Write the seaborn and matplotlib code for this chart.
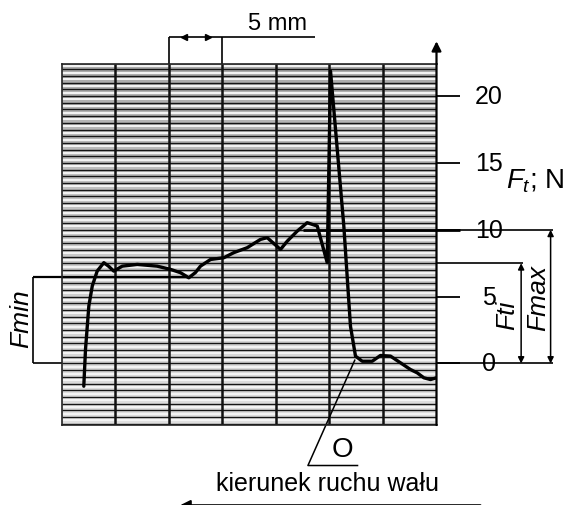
import numpy as np
import pandas as pd
import matplotlib
matplotlib.use("Agg")
import matplotlib.pyplot as plt
import seaborn as sns

# Recorded friction trace: shaft travel (mm) against tangential force F_t (N)
travel_mm = [2.08, 2.24, 2.55, 2.87, 3.33, 3.95, 4.39, 4.88, 5.67, 7.07, 8.93,
             10.17, 11.11, 11.88, 12.51, 12.97, 13.91, 15.15, 16.08, 17.33,
             18.57, 19.20, 20.44, 21.07, 22.00, 22.93, 23.87, 24.80, 25.11,
             26.35, 26.97, 27.44, 28.07, 29.00, 29.77, 30.71, 31.64, 32.57,
             33.20, 33.82, 34.44, 35.00]
force_N = [-1.70, 1.05, 4.29, 5.79, 6.91, 7.54, 7.28, 6.91, 7.28, 7.41, 7.28,
           7.04, 6.79, 6.41, 6.81, 7.28, 7.78, 7.91, 8.29, 8.66,
           9.28, 9.41, 8.53, 9.15, 9.90, 10.53, 10.28, 7.54, 21.86,
           10.28, 2.79, 0.55, 0.17, 0.17, 0.60, 0.55, 0.05, -0.45,
           -0.70, -1.07, -1.20, -1.07]

# Axis scale labels and characteristic force levels
force_ticks = [0, 5, 10, 15, 20]
tick_labels = ["0", "5", "10", "15", "20"]
F_min = 6.5
F_ti = 7.5
F_max = 10.0

df = pd.DataFrame({"travel": travel_mm, "force": force_N})

sns.set_theme(style="white")
plt.rcParams["font.family"] = ["Liberation Sans", "DejaVu Sans"]
plt.rcParams["text.color"] = "black"
plt.rcParams["mathtext.fontset"] = "custom"
plt.rcParams["mathtext.it"] = "Liberation Sans:italic"
plt.rcParams["mathtext.rm"] = "Liberation Sans"

W, H = 576, 506
fig = plt.figure(figsize=(W / 100, H / 100), dpi=100)
ax = fig.add_axes([61.5 / W, 1 - 426 / H, (436.5 - 61.5) / W, (426 - 65) / H])

XMAX, YMIN, YMAX = 35.0, -4.6, 22.4
ax.set_xlim(0, XMAX)
ax.set_ylim(YMIN, YMAX)
ax.set_facecolor("#a8a8a8")
ax.set_xticks([])
ax.set_yticks([])
for side in ["left", "bottom", "top"]:
    ax.spines[side].set_color("#222222")
    ax.spines[side].set_linewidth(1.2)
ax.spines["right"].set_visible(False)

# Recorder chart paper: darker band at the top, black rulings every 0.5 N
# and lighter rulings between them
shade = np.linspace(0.0, 1.0, 200).reshape(-1, 1)
ax.imshow(shade, extent=[0, XMAX, YMIN, YMAX], origin="upper", aspect="auto",
          cmap="Greys_r", vmin=-2.6, vmax=2.0, zorder=0)
rules = np.arange(-4.5, YMAX, 0.5)
ax.hlines(rules + 0.25, 0, XMAX, colors="#f4f4f4", lw=1.4, zorder=1)
ax.hlines(rules, 0, XMAX, colors="#151515", lw=1.0, zorder=1)
ax.vlines(np.arange(5, XMAX, 5), YMIN, YMAX, colors="#111111", lw=1.8, zorder=2)

# Force trace
sns.lineplot(data=df, x="travel", y="force", color="black", lw=2.4,
             sort=False, estimator=None, ax=ax, zorder=5)
ax.set_xlabel("")
ax.set_ylabel("")

kw = dict(color="black", clip_on=False, solid_capstyle="butt")

# Force axis with arrow, ticks and labels
ax.annotate("", xy=(XMAX, 24.1), xytext=(XMAX, YMIN),
            arrowprops=dict(arrowstyle="-|>", lw=1.6, color="black",
                            mutation_scale=14, shrinkA=0, shrinkB=0),
            annotation_clip=False)
for v, lab in zip(force_ticks, tick_labels):
    ax.plot([XMAX, 37.2], [v, v], lw=1.3, **kw)
    ax.text(39.9, v, lab, ha="center", va="center", fontsize=18)
ax.text(41.5, 13.7, r"$F_t$; N", ha="left", va="center", fontsize=20)

# F_max level and dimension
ax.plot([22.5, 37.2], [F_max, F_max], lw=2.0, **kw)
ax.plot([37.2, 45.9], [F_max, F_max], lw=1.2, **kw)
ax.plot([XMAX, 45.9], [0, 0], lw=1.2, **kw)
ax.annotate("", xy=(45.65, F_max), xytext=(45.65, 0),
            arrowprops=dict(arrowstyle="<|-|>", lw=1.1, color="black",
                            mutation_scale=9, shrinkA=0, shrinkB=0),
            annotation_clip=False)
ax.text(44.45, 5.0, "Fmax", rotation=90, style="italic", ha="center",
        va="center", fontsize=19)

# F_ti level and dimension
ax.plot([XMAX, 43.1], [F_ti, F_ti], lw=1.2, **kw)
ax.annotate("", xy=(42.9, F_ti), xytext=(42.9, 0),
            arrowprops=dict(arrowstyle="<|-|>", lw=1.1, color="black",
                            mutation_scale=9, shrinkA=0, shrinkB=0),
            annotation_clip=False)
ax.text(41.6, 3.7, "Fti", rotation=90, style="italic", ha="center",
        va="center", fontsize=19)

# F_min bracket on the left
ax.plot([-2.66, 11.8], [F_min, F_min], lw=1.6, **kw)
ax.plot([-2.66, 0], [0, 0], lw=1.2, **kw)
ax.plot([-2.66, -2.66], [0, F_min], lw=1.2, **kw)
ax.text(-3.8, 3.4, "Fmin", rotation=90, style="italic", ha="center",
        va="center", fontsize=19)

# 5 mm scale dimension above the chart
ax.plot([10, 10], [YMAX, 24.4], lw=1.2, **kw)
ax.plot([15, 15], [YMAX, 24.4], lw=1.2, **kw)
ax.plot([10, 23.7], [24.4, 24.4], lw=1.2, **kw)
ax.plot([11.4], [24.4], marker="<", ms=5, color="black", clip_on=False)
ax.plot([13.7], [24.4], marker=">", ms=5, color="black", clip_on=False)
ax.text(20.15, 25.45, "5 mm", ha="center", va="center", fontsize=17)

# Zero point leader
ax.plot([27.4, 23.0, 27.7], [0.3, -7.63, -7.63], lw=1.1, **kw)
ax.text(26.2, -6.4, "O", ha="center", va="center", fontsize=20)

# Direction of shaft motion
ax.text(24.8, -8.95, "kierunek ruchu wału", ha="center", va="center",
        fontsize=18)
ax.annotate("", xy=(11.07, -10.6), xytext=(39.1, -10.6),
            arrowprops=dict(arrowstyle="-|>", lw=1.5, color="black",
                            mutation_scale=15, shrinkA=0, shrinkB=0),
            annotation_clip=False)

fig.savefig("out.png", dpi=100)
